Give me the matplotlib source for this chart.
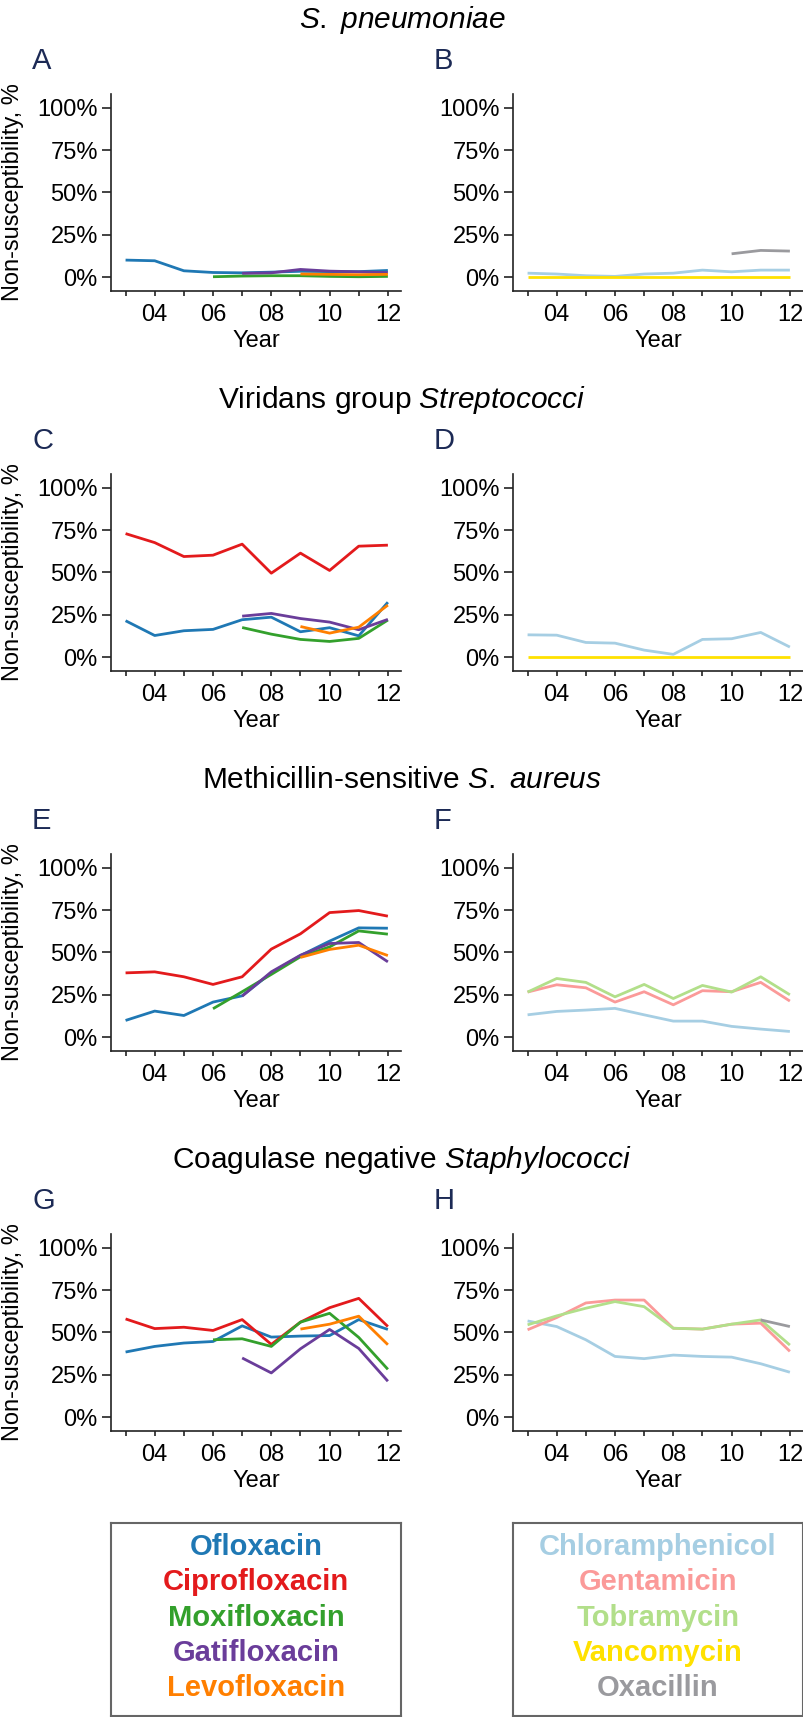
import numpy as np
import matplotlib
matplotlib.use('Agg')
import matplotlib.pyplot as plt

plt.rcParams['font.family'] = ['Liberation Sans', 'DejaVu Sans']
plt.rcParams['mathtext.fontset'] = 'custom'
plt.rcParams['mathtext.rm'] = 'Liberation Sans'
plt.rcParams['mathtext.it'] = 'Liberation Sans:italic'

nan = np.nan
years = [2003, 2004, 2005, 2006, 2007, 2008, 2009, 2010, 2011, 2012]
year_labels = ['', '04', '', '06', '', '08', '', '10', '', '12']
y_ticks = [0, 25, 50, 75, 100]
y_labels = ['0%', '25%', '50%', '75%', '100%']

# A: S. pneumoniae, fluoroquinolones
a_ofl = [10.2, 9.8, 3.9, 2.9, 2.7, 3.1, 3.6, 3.4, 3.4, 4.1]
a_mox = [nan, nan, nan, 0.4, 0.8, 1.0, 1.0, 0.6, 0.4, 0.6]
a_gat = [nan, nan, nan, nan, 2.4, 2.7, 4.7, 3.7, 3.3, 2.8]
a_lev = [nan, nan, nan, nan, nan, nan, 2.0, 1.8, 1.6, 1.8]
# B: S. pneumoniae, others
b_chl = [2.5, 2.0, 1.0, 0.6, 2.0, 2.5, 4.3, 3.3, 4.3, 4.3]
b_van = [0, 0, 0, 0, 0, 0, 0, 0, 0, 0]
b_oxa = [nan, nan, nan, nan, nan, nan, nan, 13.9, 15.9, 15.5]
# C: viridans streptococci
c_ofl = [21.6, 12.9, 15.7, 16.5, 22.2, 23.7, 15.1, 17.5, 12.7, 32.5]
c_cip = [72.9, 67.6, 59.4, 60.2, 66.7, 49.6, 61.4, 51.2, 65.5, 66.1]
c_mox = [nan, nan, nan, nan, 17.6, 13.7, 10.6, 9.4, 11.2, 22.0]
c_gat = [nan, nan, nan, nan, 24.3, 25.9, 22.9, 20.8, 16.3, 22.4]
c_lev = [nan, nan, nan, nan, nan, nan, 18.2, 14.3, 17.8, 30.8]
# D
d_chl = [13.3, 13.1, 8.8, 8.4, 4.3, 1.8, 10.6, 11.0, 14.7, 6.1]
d_van = [0, 0, 0, 0, 0, 0, 0, 0, 0, 0]
# E: MSSA
e_ofl = [10.0, 15.5, 12.9, 20.8, 24.5, 38.0, 48.2, 56.7, 64.5, 64.3]
e_cip = [38.0, 38.6, 35.7, 31.2, 35.7, 52.0, 61.0, 73.5, 74.7, 71.4]
e_mox = [nan, nan, nan, 16.9, 26.9, 37.1, 47.5, 53.3, 62.7, 60.8]
e_gat = [nan, nan, nan, nan, 24.3, 38.6, 48.4, 55.3, 55.9, 44.5]
e_lev = [nan, nan, nan, nan, nan, nan, 47.1, 51.8, 54.3, 48.2]
# F
f_chl = [13.3, 15.3, 16.1, 17.1, 13.3, 9.6, 9.6, 6.5, 4.9, 3.5]
f_gen = [26.7, 31.0, 29.2, 20.8, 26.9, 19.2, 27.5, 26.9, 32.4, 21.4]
f_tob = [26.7, 34.7, 32.4, 23.9, 31.2, 22.9, 30.6, 26.7, 35.7, 25.1]
# G: CoNS
g_ofl = [38.5, 41.8, 43.8, 44.7, 53.9, 47.3, 47.9, 48.2, 57.6, 51.8]
g_cip = [58.0, 52.3, 53.1, 51.2, 57.6, 43.0, 56.1, 64.6, 70.1, 53.5]
g_mox = [nan, nan, nan, 45.7, 46.3, 41.8, 56.1, 61.3, 47.1, 28.3]
g_gat = [nan, nan, nan, nan, 35.0, 26.2, 40.4, 51.8, 40.6, 21.3]
g_lev = [nan, nan, nan, nan, nan, nan, 52.0, 54.9, 59.6, 42.8]
# H
h_chl = [56.8, 53.5, 45.7, 35.9, 34.6, 36.7, 35.9, 35.5, 31.6, 26.6]
h_gen = [51.6, 58.8, 67.4, 69.1, 69.1, 52.5, 52.0, 54.9, 55.5, 38.9]
h_tob = [54.5, 59.8, 64.3, 68.2, 65.2, 52.5, 52.0, 54.9, 57.4, 42.6]
h_oxa = [nan, nan, nan, nan, nan, nan, nan, nan, 57.4, 53.5]

drugs_left = ['Ofloxacin', 'Ciprofloxacin', 'Moxifloxacin', 'Gatifloxacin', 'Levofloxacin']
drugs_right = ['Chloramphenicol', 'Gentamicin', 'Tobramycin', 'Vancomycin', 'Oxacillin']
colors = {
    'Ofloxacin': '#1f78b4', 'Ciprofloxacin': '#e31a1c', 'Moxifloxacin': '#33a02c',
    'Gatifloxacin': '#6a3d9a', 'Levofloxacin': '#ff7f00',
    'Chloramphenicol': '#a6cee3', 'Gentamicin': '#fb9a99', 'Tobramycin': '#b2df8a',
    'Vancomycin': '#ffe100', 'Oxacillin': '#9a9a9e',
}

titles = [r'$\mathit{S.}$ $\mathit{pneumoniae}$',
          r'Viridans group $\mathit{Streptococci}$',
          r'Methicillin-sensitive $\mathit{S.}$ $\mathit{aureus}$',
          r'Coagulase negative $\mathit{Staphylococci}$']

panels = [
    ('A', {'Ofloxacin': a_ofl, 'Moxifloxacin': a_mox, 'Gatifloxacin': a_gat, 'Levofloxacin': a_lev}),
    ('B', {'Chloramphenicol': b_chl, 'Vancomycin': b_van, 'Oxacillin': b_oxa}),
    ('C', {'Ofloxacin': c_ofl, 'Ciprofloxacin': c_cip, 'Moxifloxacin': c_mox,
           'Gatifloxacin': c_gat, 'Levofloxacin': c_lev}),
    ('D', {'Chloramphenicol': d_chl, 'Vancomycin': d_van}),
    ('E', {'Ofloxacin': e_ofl, 'Ciprofloxacin': e_cip, 'Moxifloxacin': e_mox,
           'Gatifloxacin': e_gat, 'Levofloxacin': e_lev}),
    ('F', {'Chloramphenicol': f_chl, 'Gentamicin': f_gen, 'Tobramycin': f_tob}),
    ('G', {'Ofloxacin': g_ofl, 'Ciprofloxacin': g_cip, 'Moxifloxacin': g_mox,
           'Gatifloxacin': g_gat, 'Levofloxacin': g_lev}),
    ('H', {'Chloramphenicol': h_chl, 'Gentamicin': h_gen, 'Tobramycin': h_tob, 'Oxacillin': h_oxa}),
]

W, H = 804, 1717
fig = plt.figure(figsize=(W / 100, H / 100), dpi=100)

def px_axes(left, top, width, height):
    return fig.add_axes([left / W, 1 - (top + height) / H, width / W, height / H])

col_left = [111, 513]
row_top = [94, 474, 854, 1234]
ax_w, ax_h = 290, 197
navy = '#1c2a55'

for i, (letter, series) in enumerate(panels):
    r, c = divmod(i, 2)
    ax = px_axes(col_left[c], row_top[r], ax_w, ax_h)
    for name, vals in series.items():
        ax.plot(years, vals, color=colors[name], lw=2.0, solid_capstyle='butt')
    ax.set_xlim(2002.5, 2012.45)
    ax.set_ylim(-8, 108)
    for s in ['top', 'right']:
        ax.spines[s].set_visible(False)
    for s in ['left', 'bottom']:
        ax.spines[s].set_linewidth(1.2)
        ax.spines[s].set_color('#222222')
    ax.set_xticks(years)
    ax.set_xticklabels(year_labels)
    ax.set_yticks(y_ticks)
    ax.set_yticklabels(y_labels)
    ax.tick_params(axis='y', length=6.5, width=1.2, labelsize=17, pad=3, color='#222222')
    ax.tick_params(axis='x', length=3.6, width=1.2, labelsize=17, pad=6, color='#222222')
    ax.set_xlabel('Year', fontsize=17, labelpad=2.5)
    if c == 0:
        fig.text(13 / W, 1 - (row_top[r] + ax_h / 2) / H, 'Non-susceptibility, %',
                 rotation=90, ha='center', va='center', fontsize=17)
    fig.text((col_left[c] - 79) / W, 1 - (row_top[r] - 33) / H, letter,
             ha='left', va='center', fontsize=21, color=navy)

for r, t in enumerate(titles):
    fig.text(0.5, 1 - (20 + 380 * r) / H, t, ha='center', va='center', fontsize=21.5)

# legend boxes
for c, names in enumerate([drugs_left, drugs_right]):
    lax = px_axes(col_left[c], 1523, ax_w, 193)
    lax.set_xticks([])
    lax.set_yticks([])
    for s in lax.spines.values():
        s.set_color('#666666')
        s.set_linewidth(1.5)
    for k, name in enumerate(names):
        yc = 1547 + 35.3 * k
        fig.text((col_left[c] + ax_w / 2) / W, 1 - yc / H, name, ha='center', va='center',
                 fontsize=21, fontweight='bold', color=colors[name])

fig.savefig('out.png', dpi=100)
